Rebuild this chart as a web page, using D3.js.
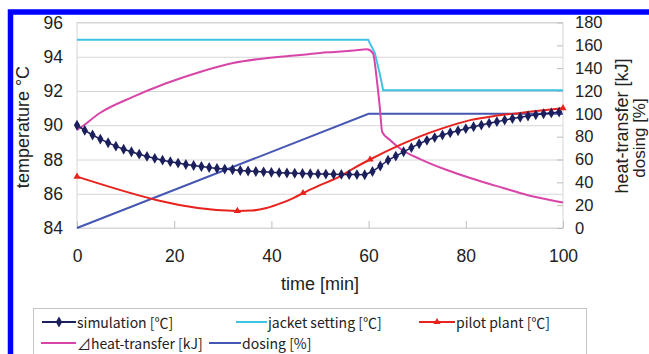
<!DOCTYPE html>
<html><head><meta charset="utf-8">
<script src="https://cdn.jsdelivr.net/npm/d3@7"></script>
<style>
html,body{margin:0;padding:0;background:#fff;overflow:hidden}
svg{display:block}
</style></head>
<body><svg id="c" width="649" height="354"></svg>
<script>
// ---- data ----
const xTicks = [0, 20, 40, 60, 80, 100];
const leftTicks = [84, 86, 88, 90, 92, 94, 96];
const rightTicks = [0, 20, 40, 60, 80, 100, 120, 140, 160, 180];

const simTime = [0,1.6,3.2,4.8,6.4,8,9.6,11.2,12.8,14.4,16,17.6,19.2,20.8,22.4,24,25.6,27.2,28.8,30.4,32,33.6,35.2,36.8,38.4,40,41.6,43.2,44.8,46.4,48,49.6,51.2,52.8,54.4,56,57.6,59.2,60.8,62.4,64,65.6,67.2,68.8,70.4,72,73.6,75.2,76.8,78.4,80,81.6,83.2,84.8,86.4,88,89.6,91.2,92.8,94.4,96,97.6,99.2];
const simTemp = [90.00,89.70,89.43,89.19,88.98,88.78,88.60,88.45,88.31,88.18,88.07,87.96,87.87,87.79,87.71,87.65,87.59,87.53,87.48,87.44,87.40,87.36,87.33,87.30,87.28,87.25,87.23,87.21,87.20,87.18,87.17,87.16,87.15,87.14,87.13,87.12,87.12,87.11,87.30,87.62,87.96,88.20,88.45,88.69,88.92,89.12,89.28,89.43,89.56,89.68,89.80,89.91,90.01,90.12,90.21,90.30,90.39,90.47,90.54,90.61,90.67,90.72,90.77];

const jacketTime = [0, 59.9, 61.3, 62.3, 63, 100];
const jacketTemp = [95, 95, 94.2, 93.0, 92.05, 92.05];

const pilotTime = [0, 33, 36, 39, 42, 44.5, 46.5, 50, 54, 57, 60.3, 66.5, 70.6, 75, 80.9, 86, 91.2, 96, 100];
const pilotTemp = [87.0, 85.0, 85.02, 85.17, 85.45, 85.75, 86.04, 86.5, 87.0, 87.5, 88.0, 88.85, 89.35, 89.8, 90.3, 90.55, 90.72, 90.88, 91.0];
const pilotMeasuredTime = [0, 33, 46.5, 60.3, 100];
const pilotMeasuredTemp = [87.0, 85.0, 86.04, 88.0, 91.0];

const heatTime = [0, 0.6, 4.7, 11.5, 18.5, 25.3, 32.1, 39.1, 45.9, 50, 53, 57, 59.7, 60.9, 61.7, 62.3, 62.8, 64.4, 66.9, 70.6, 76.1, 80.9, 87.7, 92.6, 99.4, 100];
const heatKJ = [86, 87.6, 100.7, 114.8, 127, 136.7, 144.5, 148.9, 151.5, 153.3, 154.2, 155.5, 156.5, 153, 129.6, 106, 84.1, 77.1, 68.3, 60.4, 50.8, 43.8, 35.0, 28.9, 22.8, 22.3];

const dosingTime = [0, 60, 100];
const dosingPct = [0, 100, 100];

const legendRow1 = ["simulation [℃]", "jacket setting [℃]", "pilot plant [℃]"];
const legendRow2 = ["⊿heat-transfer [kJ]", "dosing [%]"];

// ---- styles ----
const C = {sim:"#1b1f5c", jacket:"#3ec3e3", pilot:"#e8221d", heat:"#d845a8", dosing:"#4657b3", grid:"#d6d6d6", text:"#222"};
const FONT = "'Liberation Sans', Arial, sans-serif";
const JFONT = "'Noto Sans CJK JP', 'Liberation Sans', sans-serif";

const svg = d3.select("#c");
const L = 77, R = 563, T = 22.5, B = 228;
const x = d3.scaleLinear().domain([0,100]).range([L,R]);
const yL = d3.scaleLinear().domain([84,96]).range([B,T]);
const yR = d3.scaleLinear().domain([0,180]).range([B,T]);

// blue frame
svg.append("path").attr("d", `M10.5,400 L10.5,12 L700,12`).attr("fill","none").attr("stroke","#0000ff").attr("stroke-width",5.5);

// gridlines
svg.append("g").attr("transform",`translate(${L},0)`)
  .call(d3.axisLeft(yL).tickValues(leftTicks).tickSize(-(R-L)).tickFormat(""))
  .call(g=>{g.select(".domain").remove(); g.selectAll("line").attr("stroke",C.grid);});
// plot border
svg.append("rect").attr("x",L).attr("y",T).attr("width",R-L).attr("height",B-T).attr("fill","none").attr("stroke",C.grid);

// left axis labels
svg.append("g").attr("transform",`translate(${L},0)`)
  .call(d3.axisLeft(yL).tickValues(leftTicks).tickSize(0).tickPadding(14).tickFormat(d3.format("d")))
  .call(g=>{g.select(".domain").remove(); g.selectAll("text").attr("font-family",FONT).attr("font-size",17.5).attr("fill",C.text);});
// right axis
svg.append("g").attr("transform",`translate(${R},0)`)
  .call(d3.axisRight(yR).tickValues(rightTicks).tickSize(-6).tickPadding(12).tickFormat(d3.format("d")))
  .call(g=>{g.select(".domain").remove(); g.selectAll("line").attr("stroke","#bdbdbd");
    g.selectAll("text").attr("font-family",FONT).attr("font-size",16.5).attr("fill",C.text);});
// bottom axis
svg.append("g").attr("transform",`translate(0,${B})`)
  .call(d3.axisBottom(x).tickValues(xTicks).tickSize(-7).tickPadding(22).tickFormat(d3.format("d")))
  .call(g=>{g.select(".domain").remove(); g.selectAll("line").attr("stroke","#bdbdbd");
    g.selectAll("text").attr("font-family",FONT).attr("font-size",17.5).attr("fill",C.text);});

// axis titles
svg.append("text").attr("transform","translate(29,127) rotate(-90)").attr("text-anchor","middle")
  .attr("font-family",FONT).attr("font-size",18).attr("fill",C.text).text("temperature °C");
svg.append("text").attr("x",320).attr("y",290).attr("text-anchor","middle")
  .attr("font-family",FONT).attr("font-size",18).attr("fill",C.text).text("time [min]");
svg.append("text").attr("transform","translate(628,126) rotate(-90)").attr("text-anchor","middle")
  .attr("font-family",FONT).attr("font-size",18).attr("fill",C.text).text("heat-transfer [kJ]");
svg.append("text").attr("transform","translate(645,138) rotate(-90)").attr("text-anchor","middle")
  .attr("font-family",FONT).attr("font-size",17).attr("fill",C.text).text("dosing [%]");

const lineL = d3.line().x(d=>x(d[0])).y(d=>yL(d[1]));
const lineR = d3.line().x(d=>x(d[0])).y(d=>yR(d[1]));
const zip = (a,b)=>a.map((v,i)=>[v,b[i]]);

// series
svg.append("path").datum(zip(dosingTime,dosingPct)).attr("d",lineR).attr("fill","none").attr("stroke",C.dosing).attr("stroke-width",2);
svg.append("path").datum(zip(jacketTime,jacketTemp)).attr("d",lineL).attr("fill","none").attr("stroke",C.jacket).attr("stroke-width",2);
svg.append("path").datum(zip(heatTime,heatKJ)).attr("d",d3.line().x(d=>x(d[0])).y(d=>yR(d[1])).curve(d3.curveMonotoneX)).attr("fill","none").attr("stroke",C.heat).attr("stroke-width",2);
svg.append("path").datum(zip(pilotTime,pilotTemp)).attr("d",d3.line().x(d=>x(d[0])).y(d=>yL(d[1])).curve(d3.curveMonotoneX)).attr("fill","none").attr("stroke",C.pilot).attr("stroke-width",2);
const sim = zip(simTime,simTemp);
svg.append("path").datum(sim).attr("d",lineL).attr("fill","none").attr("stroke",C.sim).attr("stroke-width",1.5);
const diamond = d3.symbol().type(d3.symbolDiamond).size(34);
svg.append("g").selectAll("path").data(sim).join("path")
  .attr("transform",d=>`translate(${x(d[0])},${yL(d[1])})`).attr("d",diamond).attr("fill",C.sim);
const tri = d3.symbol().type(d3.symbolTriangle).size(22);
svg.append("g").selectAll("path").data(zip(pilotMeasuredTime,pilotMeasuredTemp)).join("path")
  .attr("transform",d=>`translate(${x(d[0])},${yL(d[1])})`).attr("d",tri).attr("fill",C.pilot);

// legend
svg.append("rect").attr("x",33.5).attr("y",308.5).attr("width",553).attr("height",80).attr("fill","#fff").attr("stroke","#c4c4c4");
const items = [
  {row:0, x0:42, x1:76, name:legendRow1[0], color:C.sim, mark:"diamond"},
  {row:0, x0:236, x1:267, name:legendRow1[1], color:C.jacket},
  {row:0, x0:419, x1:455, name:legendRow1[2], color:C.pilot, mark:"tri"},
  {row:1, x0:41, x1:76, name:legendRow2[0], color:C.heat},
  {row:1, x0:209, x1:241, name:legendRow2[1], color:C.dosing}
];
const rowY = [322, 343];
items.forEach(it=>{
  const yy = rowY[it.row];
  svg.append("line").attr("x1",it.x0).attr("x2",it.x1).attr("y1",yy).attr("y2",yy).attr("stroke",it.color).attr("stroke-width",2);
  const cx = (it.x0+it.x1)/2;
  if (it.mark==="diamond") svg.append("path").attr("transform",`translate(${cx},${yy})`).attr("d",diamond).attr("fill",it.color);
  if (it.mark==="tri") svg.append("path").attr("transform",`translate(${cx},${yy})`).attr("d",tri).attr("fill",it.color);
  svg.append("text").attr("x",it.x1+1).attr("y",yy+5.5).attr("font-family",JFONT).attr("font-size",14).attr("fill",C.text).text(it.name);
});
</script>
</body></html>
